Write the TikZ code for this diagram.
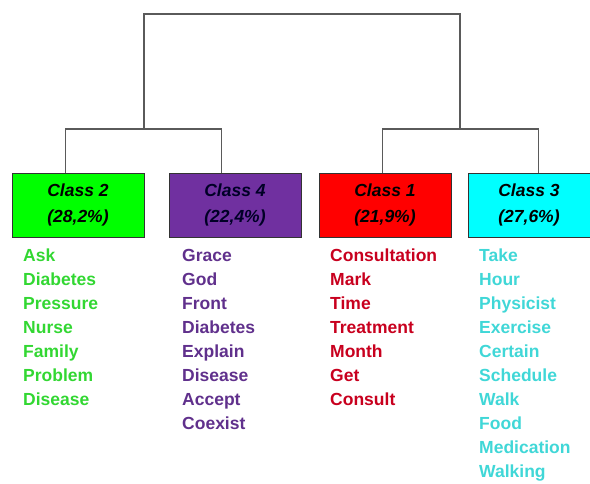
\documentclass[tikz,border=0pt]{standalone}
\usepackage{fontspec}
\setmainfont{Liberation Sans}
\usepackage{xcolor}
\usepackage{tikz}
\usetikzlibrary{positioning}

\definecolor{boxgreen}{RGB}{0,255,0}
\definecolor{boxpurple}{RGB}{112,48,160}
\definecolor{boxred}{RGB}{255,0,0}
\definecolor{boxcyan}{RGB}{0,255,255}
\definecolor{wordgreen}{RGB}{50,215,50}
\definecolor{wordpurple}{RGB}{96,48,140}
\definecolor{wordred}{RGB}{200,0,30}
\definecolor{wordcyan}{RGB}{64,215,215}
\definecolor{linkgray}{RGB}{90,90,90}

\begin{document}
\begin{tikzpicture}[x=1pt, y=-1pt,
		classbox/.style={draw=black!80, line width=0.8pt, minimum width=132pt, minimum height=64pt,
			inner sep=0pt, align=center, font=\fontsize{17.5}{26}\selectfont\bfseries\itshape},
		wordlist/.style={anchor=north west, inner sep=0pt, align=left,
			font=\fontsize{17.5}{24}\selectfont\bfseries},
		link/.style={draw=linkgray, line width=1.4pt}]
		\useasboundingbox (0,0) rectangle (590,483);

		\node[classbox, fill=boxgreen] (c2) at (78,205) {Class 2\\(28,2\%)};
		\node[classbox, fill=boxpurple, text=black!85!blue] (c4) at (235,205) {Class 4\\(22,4\%)};
		\node[classbox, fill=boxred] (c1) at (385,205) {Class 1\\(21,9\%)};
		\node[classbox, fill=boxcyan, minimum width=122pt] (c3) at (529,205) {Class 3\\(27,6\%)};

		\node[wordlist, text=wordgreen] (w2) at (23,249) {Ask\\Diabetes\\Pressure\\Nurse\\Family\\Problem\\Disease};
		\node[wordlist, text=wordpurple] (w4) at (182,249) {Grace\\God\\Front\\Diabetes\\Explain\\Disease\\Accept\\Coexist};
		\node[wordlist, text=wordred] (w1) at (330,249) {Consultation\\Mark\\Time\\Treatment\\Month\\Get\\Consult};
		\node[wordlist, text=wordcyan] (w3) at (479,249) {Take\\Hour\\Physicist\\Exercise\\Certain\\Schedule\\Walk\\Food\\Medication\\Walking};

		\coordinate (a2) at ([xshift=54pt]c2.north west);
		\coordinate (a4) at ([xshift=53pt]c4.north west);
		\coordinate (a1) at ([xshift=64pt]c1.north west);
		\coordinate (a3) at ([xshift=71pt]c3.north west);
		\coordinate (jl) at (144,129);
		\coordinate (jr) at (460,129);
		\coordinate (top) at (302,14);

		\draw[link] (a2) |- (jl) -| (a4);
		\draw[link] (a1) |- (jr) -| (a3);
		\draw[link] (jl) |- (top) -| (jr);
	\end{tikzpicture}
\end{document}
